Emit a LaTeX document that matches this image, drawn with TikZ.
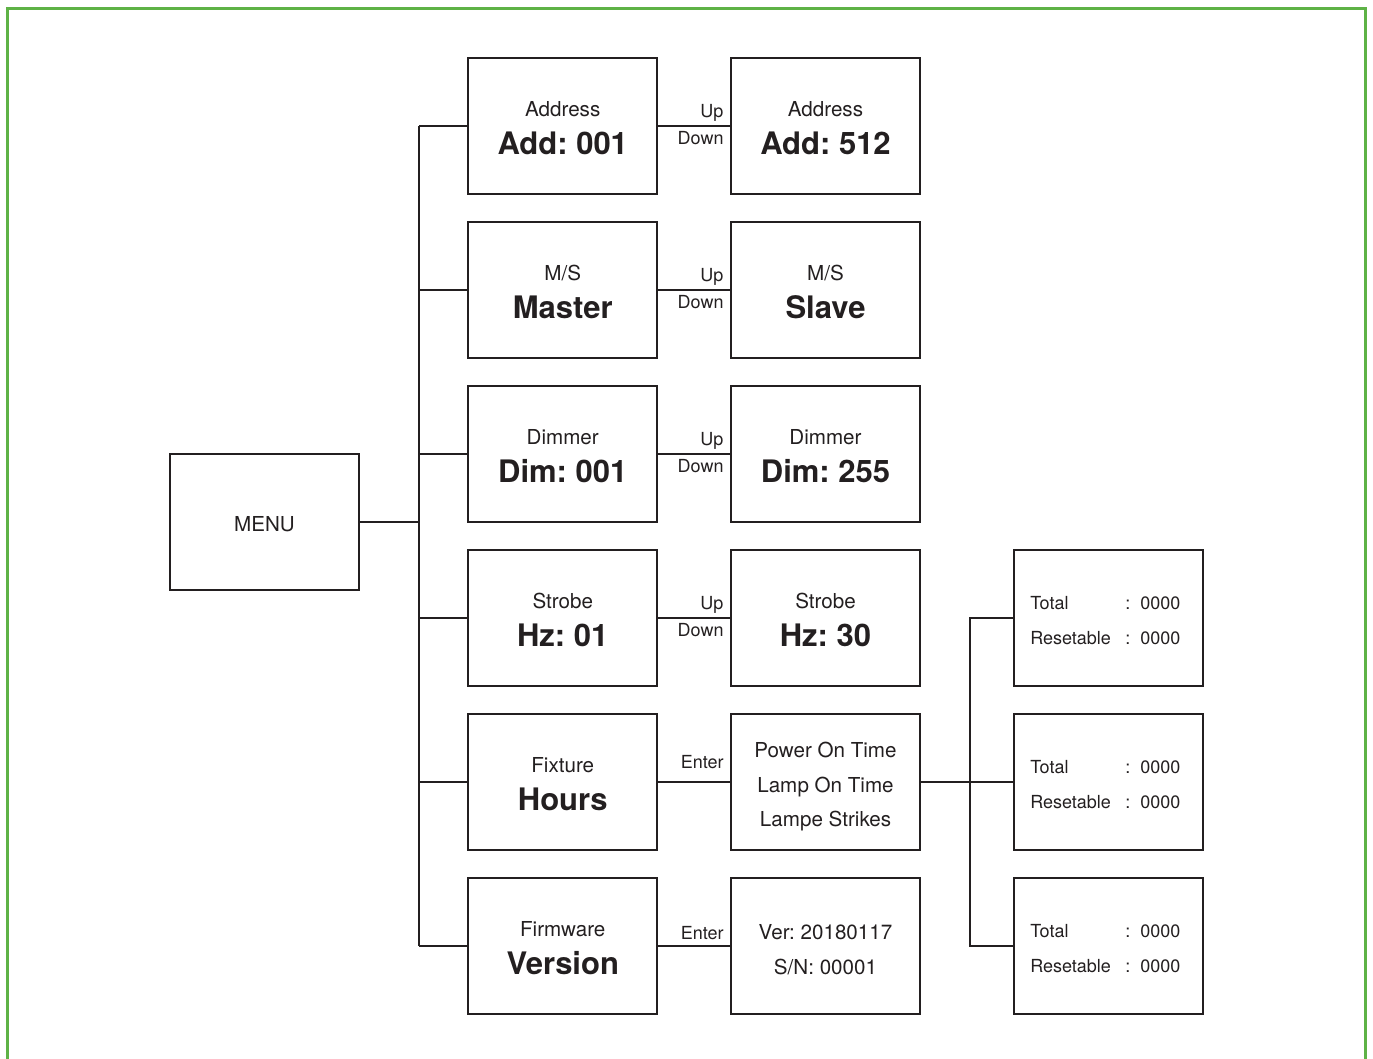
\documentclass[tikz,border=0pt]{standalone}
\usepackage{fontspec}
\setmainfont{TeX Gyre Heros}
\frenchspacing
\usetikzlibrary{calc}
\definecolor{ink}{HTML}{231F20}
\definecolor{frame}{RGB}{94,178,70}
\tikzset{
  menubox/.style={draw=ink, line width=1.1pt, minimum width=94.5pt, minimum height=68pt, inner sep=0pt},
  conn/.style={draw=ink, line width=1.1pt},
  small/.style={anchor=base, inner sep=0pt, text=ink, font=\fontsize{10.3}{12}\selectfont\frenchspacing},
  big/.style={anchor=base, inner sep=0pt, text=ink, font=\fontsize{15.5}{18}\selectfont\bfseries\frenchspacing},
  lbl/.style={anchor=base east, inner sep=0pt, text=ink, font=\fontsize{9}{11}\selectfont},
  tiny/.style={anchor=base west, inner sep=0pt, text=ink, font=\fontsize{9}{11}\selectfont},
}
\begin{document}
\begin{tikzpicture}[x=0.5pt, y=-0.5pt]
\path[use as bounding box] (0,0) rectangle (1373,1059);
\draw[frame, line width=1.5pt] (7.5,1070) -- (7.5,9) -- (1365.5,9) -- (1365.5,1070);

% menu
\node[menubox] (menu) at (264.5,522) {};
\node[small] (menut) at ($(menu)+(0,9)$) {MENU};

% column 1
\node[menubox] (a1) at (562.75,126) {};
\node[menubox] (a2) at (562.75,290) {};
\node[menubox] (a3) at (562.75,454) {};
\node[menubox] (a4) at (562.75,618) {};
\node[menubox] (a5) at (562.75,782) {};
\node[menubox] (a6) at (562.75,946) {};
% column 2
\node[menubox] (b1) at (825.5,126) {};
\node[menubox] (b2) at (825.5,290) {};
\node[menubox] (b3) at (825.5,454) {};
\node[menubox] (b4) at (825.5,618) {};
\node[menubox] (b5) at (825.5,782) {};
\node[menubox] (b6) at (825.5,946) {};
% column 3
\node[menubox] (c1) at (1108.5,618) {};
\node[menubox] (c2) at (1108.5,782) {};
\node[menubox] (c3) at (1108.5,946) {};

% texts column 1
\node[small] (a1s) at ($(a1)+(0,-9.5)$) {Address};
\node[big]   (a1b) at ($(a1)+(0,28.5)$) {Add: 001};
\node[small] (a2s) at ($(a2)+(0,-9.5)$) {M/S};
\node[big]   (a2b) at ($(a2)+(0,28.5)$) {Master};
\node[small] (a3s) at ($(a3)+(0,-9.5)$) {Dimmer};
\node[big]   (a3b) at ($(a3)+(0,28.5)$) {Dim: 001};
\node[small] (a4s) at ($(a4)+(0,-9.5)$) {Strobe};
\node[big]   (a4b) at ($(a4)+(0,28.5)$) {Hz: 01};
\node[small] (a5s) at ($(a5)+(0,-9.5)$) {Fixture};
\node[big]   (a5b) at ($(a5)+(0,28.5)$) {Hours};
\node[small] (a6s) at ($(a6)+(0,-9.5)$) {Firmware};
\node[big]   (a6b) at ($(a6)+(0,28.5)$) {Version};

% texts column 2
\node[small] (b1s) at ($(b1)+(0,-9.5)$) {Address};
\node[big]   (b1b) at ($(b1)+(0,28.5)$) {Add: 512};
\node[small] (b2s) at ($(b2)+(0,-9.5)$) {M/S};
\node[big]   (b2b) at ($(b2)+(0,28.5)$) {Slave};
\node[small] (b3s) at ($(b3)+(0,-9.5)$) {Dimmer};
\node[big]   (b3b) at ($(b3)+(0,28.5)$) {Dim: 255};
\node[small] (b4s) at ($(b4)+(0,-9.5)$) {Strobe};
\node[big]   (b4b) at ($(b4)+(0,28.5)$) {Hz: 30};
\node[small] (b5x) at ($(b5)+(0,-24.5)$) {Power On Time};
\node[small] (b5y) at ($(b5)+(0,10)$) {Lamp On Time};
\node[small] (b5z) at ($(b5)+(0,44.5)$) {Lampe Strikes};
\node[small] (b6x) at ($(b6)+(0,-6.5)$) {Ver: 20180117};
\node[small] (b6y) at ($(b6)+(0,28.5)$) {S/N: 00001};

% texts column 3
\foreach \c in {c1,c2,c3}{
  \node[tiny] (\c t1) at ($(\c.west)+(17,-8.5)$) {Total};
  \node[tiny] (\c t2) at ($(\c.west)+(17,26.5)$) {Resetable};
  \node[tiny] (\c k1) at ($(\c.west)+(112,-8.5)$) {:};
  \node[tiny] (\c k2) at ($(\c.west)+(112,26.5)$) {:};
  \node[tiny] (\c v1) at ($(\c.west)+(127,-8.5)$) {0000};
  \node[tiny] (\c v2) at ($(\c.west)+(127,26.5)$) {0000};
}

% trunk
\coordinate (t) at (419,522);
\draw[conn] (menu.east) -- (t);
\draw[conn] (a1.west -| t) -- (a6.west -| t);
\foreach \i in {1,...,6}{
  \draw[conn] (a\i.west -| t) -- (a\i.west);
  \draw[conn] (a\i.east) -- (b\i.west);
}
% up/down labels
\foreach \i in {1,2,3,4}{
  \node[lbl] (u\i) at ($(b\i.west)+(-6,-8.5)$) {Up};
  \node[lbl] (d\i) at ($(b\i.west)+(-6,18.5)$) {Down};
}
\node[lbl] (e5) at ($(b5.west)+(-6,-13)$) {Enter};
\node[lbl] (e6) at ($(b6.west)+(-6,-7)$) {Enter};

% second trunk
\coordinate (t2) at (970,782);
\draw[conn] (b5.east) -- (c2.west);
\draw[conn] (c1.west) -- (c1.west -| t2) -- (c3.west -| t2) -- (c3.west);
\end{tikzpicture}
\end{document}
